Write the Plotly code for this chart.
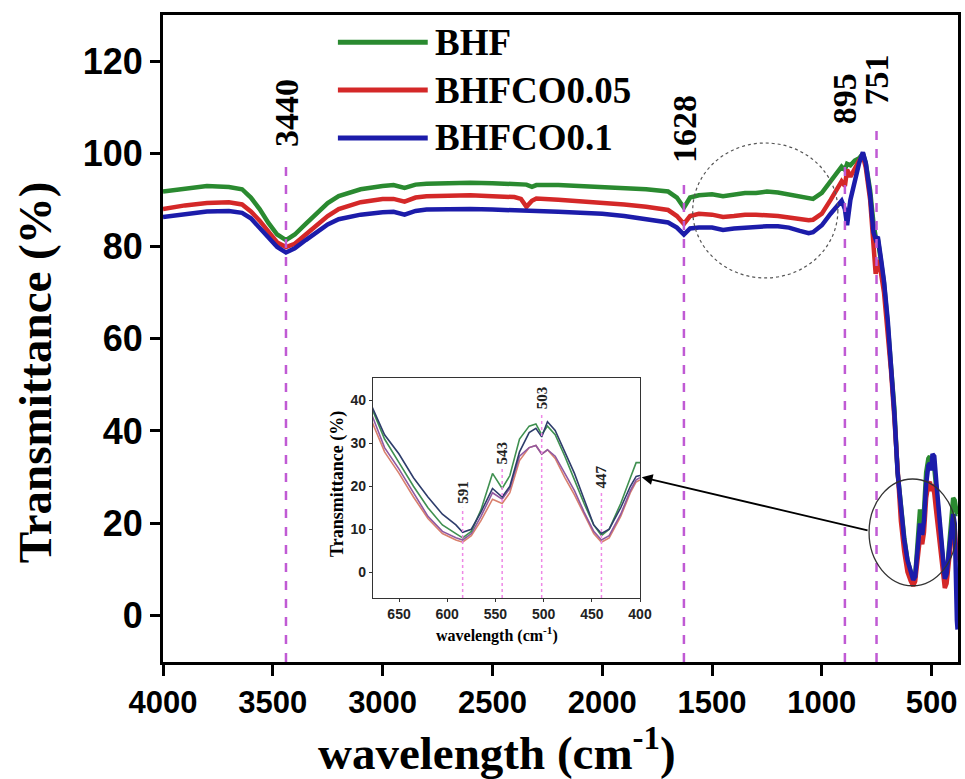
import plotly.graph_objects as go

# ---------------- main spectrum data ----------------
wn = [4000, 3900, 3800, 3700, 3640, 3600, 3560, 3520, 3480, 3440, 3400, 3350, 3300, 3250, 3200,
      3100, 3000, 2950, 2900, 2850, 2800, 2700, 2600, 2500, 2400, 2370, 2345, 2320, 2300, 2200,
      2100, 2000, 1900, 1800, 1700, 1660, 1628, 1600, 1560, 1500, 1450, 1400, 1350, 1300, 1250,
      1200, 1150, 1100, 1060, 1040, 1000, 960, 930, 910, 895, 885, 870, 850, 830, 813,
      800, 780, 765, 755, 745, 730, 717, 700, 685, 670, 655, 640, 625, 610, 595,
      584, 575, 565, 553, 543, 535, 525, 515, 508, 502, 496, 488, 478, 468, 458,
      448, 440, 432, 420, 410, 402, 395, 390, 385, 382]

bhf = [91.8, 92.5, 93.0, 92.8, 92.3, 90.5, 88.0, 85.0, 82.5, 81.3, 82.5, 84.8, 87.0, 89.3, 90.8,
       92.3, 93.0, 93.2, 92.6, 93.3, 93.5, 93.7, 93.7, 93.6, 93.5, 93.4, 93.3, 92.8, 93.2, 93.2,
       93.0, 92.8, 92.6, 92.3, 91.8, 90.5, 88.3, 90.5, 91.0, 91.2, 90.8, 91.2, 91.5, 91.5, 91.8,
       91.6, 91.2, 90.8, 90.3, 90.2, 91.5, 94.0, 96.0, 97.2, 96.5, 97.8, 97.5, 98.5, 99.0, 100.0,
       98.0, 92.0, 85.0, 82.0, 81.5, 76.0, 72.0, 63.0, 54.5, 45.0, 31.0, 23.0, 17.0, 12.0, 9.0,
       7.5, 8.5, 14.0, 23.0, 19.5, 22.5, 31.0, 34.0, 34.5, 32.0, 34.0, 32.0, 27.0, 21.5, 16.0,
       10.5, 7.5, 8.5, 15.0, 21.5, 25.5, 25.0, 22.0, 22.0, 22.0]

bhfco005 = [88.0, 88.8, 89.3, 89.5, 89.0, 87.5, 85.5, 83.0, 80.8, 79.8, 80.5, 82.5, 84.5, 86.5, 88.0,
            89.5, 90.2, 90.2, 89.6, 90.5, 90.8, 91.0, 91.0, 90.8, 90.6, 90.2, 88.5, 89.8, 90.3, 90.0,
            89.7, 89.3, 89.0, 88.5, 87.8, 86.5, 84.8, 86.5, 87.0, 86.8, 86.3, 86.5, 86.8, 86.8, 86.7,
            86.5, 86.2, 85.8, 85.6, 85.7, 87.0, 90.0, 92.5, 94.0, 93.0, 96.5, 95.0, 97.0, 98.5, 99.5,
            97.0, 90.0, 78.0, 74.0, 77.0, 74.0, 70.0, 61.5, 53.0, 43.0, 29.5, 20.5, 14.0, 9.5, 7.5,
            6.5, 7.5, 11.5, 17.0, 15.5, 18.0, 25.5, 28.5, 29.0, 27.0, 28.5, 26.5, 22.0, 17.5, 13.0,
            8.5, 6.0, 7.0, 12.0, 17.5, 20.5, 19.0, 12.0, 12.0, 12.0]

bhfco01 = [86.3, 87.0, 87.5, 87.6, 87.2, 86.0, 84.0, 81.8, 79.8, 78.6, 79.5, 81.3, 83.0, 84.7, 85.8,
           86.8, 87.3, 87.4, 86.8, 87.6, 87.9, 88.0, 88.0, 87.9, 87.8, 87.7, 87.6, 87.5, 87.5, 87.4,
           87.2, 87.0, 86.5, 85.9, 85.1, 84.0, 82.5, 83.8, 84.0, 84.0, 83.5, 83.8, 84.0, 84.2, 84.3,
           84.3, 84.0, 83.3, 82.8, 83.0, 84.5, 87.0, 88.5, 89.8, 88.0, 84.5, 90.0, 94.5, 98.0, 100.3,
           98.0, 91.0, 83.0, 81.5, 82.0, 77.0, 72.4, 64.0, 54.5, 44.0, 31.0, 23.0, 16.5, 12.0, 9.5,
           7.8, 8.5, 13.0, 20.0, 17.5, 20.5, 28.5, 32.5, 33.0, 31.5, 35.0, 34.5, 28.5, 22.5, 16.5,
           10.5, 8.0, 9.0, 14.5, 19.5, 22.0, 20.0, 5.0, -1.0, -3.0]

series_names = ["BHF", "BHFCO0.05", "BHFCO0.1"]
series_colors = ["#2a8a30", "#d42828", "#1c1caa"]

main_peaks = [3440, 1628, 895, 751]
main_peak_labels = ["3440", "1628", "895", "751"]
main_line_tops = [99, 94.7, 99, 106]
main_label_bottoms = [101, 97.5, 106, 110]

x_ticks = [4000, 3500, 3000, 2500, 2000, 1500, 1000, 500]
y_ticks = [0, 20, 40, 60, 80, 100, 120]

# ---------------- inset data ----------------
inset_wn = [678, 665, 650, 635, 620, 605, 591, 584, 575, 565, 553, 543, 535, 525, 515,
            508, 502, 496, 488, 478, 468, 458, 448, 440, 432, 420, 410, 404, 400]
inset_navy = [38.5, 32.0, 27.5, 22.0, 17.5, 13.5, 11.0, 9.3, 10.0, 14.0, 19.5, 17.5, 20.0, 28.0, 32.5,
              33.5, 31.5, 35.0, 33.0, 28.0, 23.0, 17.0, 11.0, 9.0, 10.0, 15.0, 20.0, 22.3, 22.5]
inset_green = [38.0, 31.0, 25.5, 20.0, 15.0, 11.0, 9.0, 8.0, 9.5, 14.5, 23.0, 19.5, 22.5, 31.0, 34.0,
               34.5, 32.0, 34.0, 32.0, 27.0, 21.5, 16.0, 11.0, 8.5, 10.0, 16.0, 22.0, 25.5, 25.5]
inset_purple = [36.5, 29.0, 24.0, 18.5, 13.0, 9.5, 8.0, 7.5, 9.0, 13.0, 18.5, 17.0, 19.5, 27.0, 29.0,
                29.5, 27.5, 28.5, 27.0, 23.0, 19.0, 14.0, 9.5, 7.5, 8.5, 13.5, 19.0, 21.5, 22.0]
inset_red = [35.0, 28.0, 23.0, 17.5, 12.5, 9.0, 7.5, 7.0, 8.5, 12.0, 17.0, 16.0, 18.5, 26.0, 29.0,
             29.5, 27.5, 28.5, 26.5, 22.0, 18.0, 13.5, 9.0, 7.0, 8.0, 13.0, 18.5, 21.0, 21.5]
inset_colors = ["#d9806e", "#9058a0", "#3f9050", "#2e3d6b"]

inset_peaks = [584, 543, 502, 440]
inset_peak_labels = ["591", "543", "503", "447"]
inset_line_tops = [15.0, 24.0, 37.0, 18.5]
inset_label_bottoms = [15.5, 24.5, 37.5, 19.0]
inset_x_ticks = [650, 600, 550, 500, 450, 400]
inset_y_ticks = [0, 10, 20, 30, 40]

SERIF = "Liberation Serif, Times New Roman, serif"
SANS = "Liberation Sans, Arial, sans-serif"

fig = go.Figure()

for name, ys, col in zip(series_names, [bhf, bhfco005, bhfco01], series_colors):
    fig.add_trace(go.Scatter(x=wn, y=ys, mode="lines", name=name,
                             line=dict(color=col, width=4.5), showlegend=False,
                             xaxis="x", yaxis="y"))

for ys, col in zip([inset_red, inset_purple, inset_green, inset_navy], inset_colors):
    fig.add_trace(go.Scatter(x=inset_wn, y=ys, mode="lines", line=dict(color=col, width=1.6),
                             showlegend=False, xaxis="x2", yaxis="y2"))

shapes = []
annotations = []

# main peak marker lines + labels
for p, lab, top, lb in zip(main_peaks, main_peak_labels, main_line_tops, main_label_bottoms):
    shapes.append(dict(type="line", xref="x", yref="y", x0=p, x1=p, y0=-10, y1=top,
                       line=dict(color="#c05ad4", width=2.5, dash="dash")))
    annotations.append(dict(xref="x", yref="y", x=p, y=lb, text="<b>%s</b>" % lab,
                            textangle=-90, showarrow=False, xanchor="center", yanchor="bottom",
                            font=dict(family=SERIF, size=34, color="black")))

# inset peak marker lines + labels
for p, lab, top, lb in zip(inset_peaks, inset_peak_labels, inset_line_tops, inset_label_bottoms):
    shapes.append(dict(type="line", xref="x2", yref="y2", x0=p, x1=p, y0=-6, y1=top,
                       line=dict(color="#ee88e6", width=1.5, dash="dot")))
    annotations.append(dict(xref="x2", yref="y2", x=p, y=lb, text="<b>%s</b>" % lab,
                            textangle=-90, showarrow=False, xanchor="center", yanchor="bottom",
                            font=dict(family=SERIF, size=15, color="#222")))

# circles
shapes.append(dict(type="circle", xref="x", yref="y", x0=1588, x1=927, y0=73.1, y1=102.3,
                   line=dict(color="#555", width=1.2, dash="dot")))
shapes.append(dict(type="circle", xref="x", yref="y", x0=785, x1=389, y0=6.5, y1=29.6,
                   line=dict(color="#333", width=1.3)))

# arrow from circle to inset
annotations.append(dict(xref="x", yref="y", axref="x", ayref="y", x=1820, y=30,
                        ax=785, ay=18.4, text="", showarrow=True, arrowhead=2,
                        arrowsize=1.2, arrowwidth=1.8, arrowcolor="black"))

# custom legend
leg_y = [0.958, 0.884, 0.810]
for name, col, yy in zip(series_names, series_colors, leg_y):
    shapes.append(dict(type="line", xref="paper", yref="paper", x0=0.220, x1=0.333, y0=yy, y1=yy,
                       line=dict(color=col, width=5)))
    annotations.append(dict(xref="paper", yref="paper", x=0.339, y=yy, text="<b>%s</b>" % name,
                            showarrow=False, xanchor="left", yanchor="middle",
                            font=dict(family=SERIF, size=37, color="black")))

# axis titles
annotations.append(dict(xref="paper", yref="paper", x=-0.161, y=0.448,
                        text="<b>Transmittance (%)</b>", textangle=-90, showarrow=False,
                        xanchor="center", yanchor="middle",
                        font=dict(family=SERIF, size=47, color="black")))
annotations.append(dict(xref="paper", yref="paper", x=0.42, y=-0.136,
                        text="<b>wavelength (cm<sup>-1</sup>)</b>", showarrow=False,
                        xanchor="center", yanchor="middle",
                        font=dict(family=SERIF, size=47, color="black")))
# inset titles
annotations.append(dict(xref="paper", yref="paper", x=(337 - 163) / 795, y=(662 - 484) / 647,
                        text="<b>Transmittance (%)</b>", textangle=-90, showarrow=False,
                        xanchor="center", yanchor="middle",
                        font=dict(family=SERIF, size=18, color="black")))
annotations.append(dict(xref="paper", yref="paper", x=(497 - 163) / 795, y=(662 - 634) / 647,
                        text="<b>wavelength (cm<sup>-1</sup>)</b>", showarrow=False,
                        xanchor="center", yanchor="middle",
                        font=dict(family=SERIF, size=16, color="black")))

fig.update_layout(
    width=965, height=779,
    margin=dict(l=163, r=7, t=15, b=117, autoexpand=False),
    paper_bgcolor="white", plot_bgcolor="white",
    showlegend=False,
    shapes=shapes, annotations=annotations,
    xaxis=dict(range=[4000, 380], tickvals=x_ticks, ticks="outside", ticklen=11, tickwidth=3,
               tickcolor="black", showline=True, linewidth=3, linecolor="black", mirror=True,
               showgrid=False, zeroline=False, automargin=False,
               tickfont=dict(family=SANS, size=31, color="black", weight="bold")),
    yaxis=dict(range=[-10, 130], tickvals=y_ticks, ticks="outside", ticklen=10, tickwidth=3,
               tickcolor="black", showline=True, linewidth=3, linecolor="black", mirror=True,
               showgrid=False, zeroline=False, automargin=False,
               tickfont=dict(family=SANS, size=36, color="black", weight="bold")),
    xaxis2=dict(domain=[(373 - 163) / 795, (640 - 163) / 795], anchor="y2", range=[677, 400],
                tickvals=inset_x_ticks, ticks="outside", ticklen=3, tickwidth=1.2,
                tickcolor="#333", showline=True, linewidth=1.3, linecolor="#333", mirror=True,
                showgrid=False, zeroline=False, automargin=False,
                tickfont=dict(family=SANS, size=14, color="#222", weight="bold")),
    yaxis2=dict(domain=[(662 - 598) / 647, (662 - 378) / 647], anchor="x2", range=[-6, 45.2],
                tickvals=inset_y_ticks, ticks="outside", ticklen=3, tickwidth=1.2,
                tickcolor="#333", showline=True, linewidth=1.3, linecolor="#333", mirror=True,
                showgrid=False, zeroline=False, automargin=False,
                tickfont=dict(family=SANS, size=14, color="#222", weight="bold")),
)

fig.write_html("out.html")
